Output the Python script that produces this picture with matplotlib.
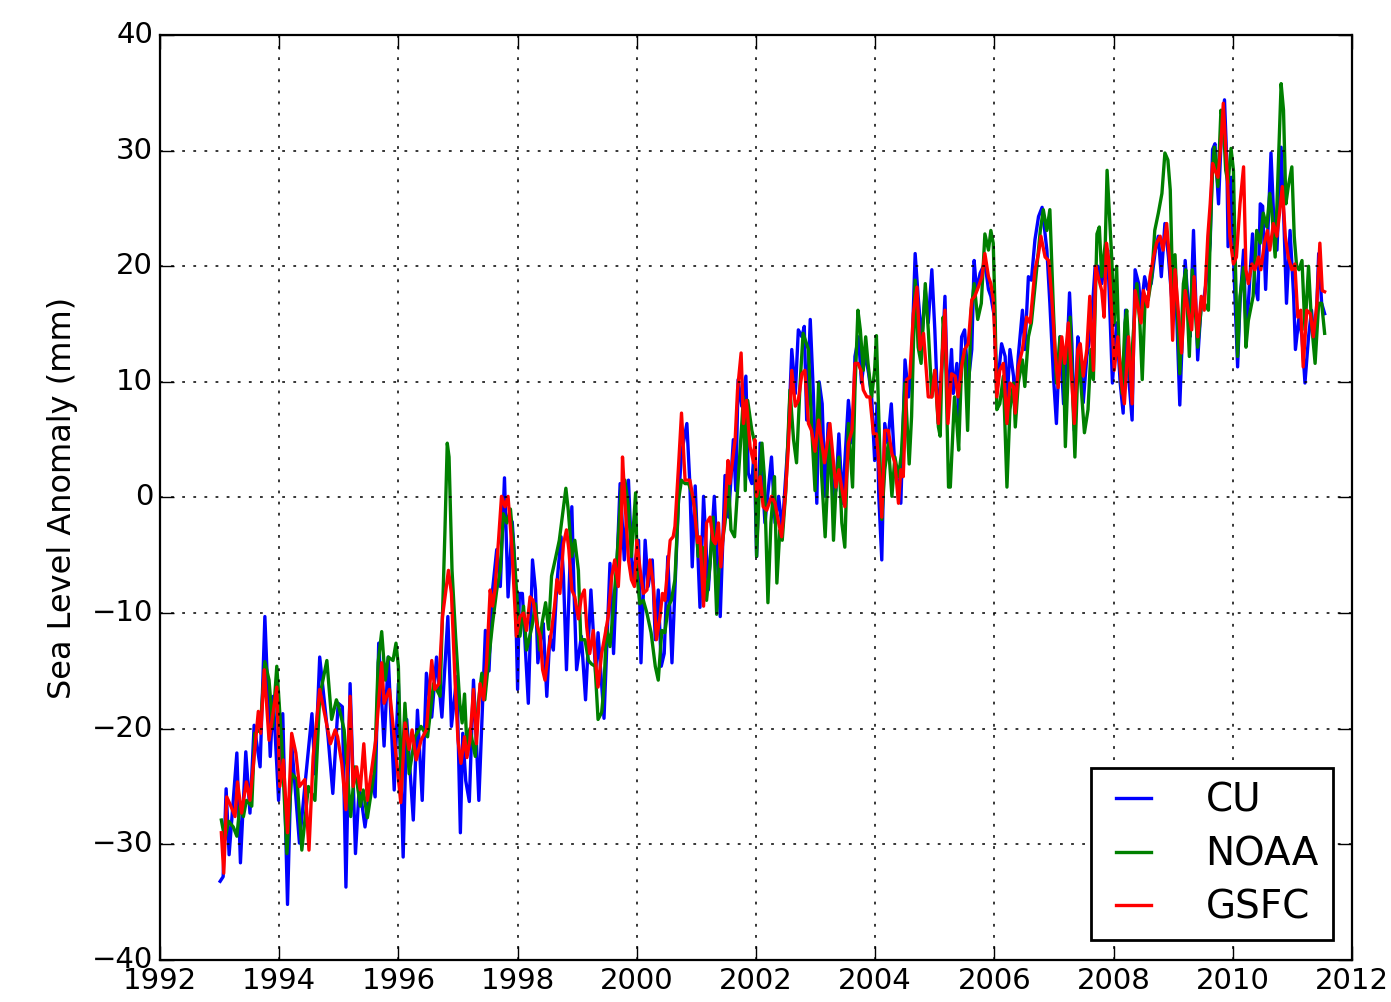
import matplotlib
matplotlib.use("Agg")
import matplotlib.pyplot as plt

# =================================================
# DATOS (mm)
# =================================================
cu_t = [1993.01, 1993.06, 1993.11, 1993.16, 1993.29, 1993.35, 1993.44, 1993.51, 1993.58, 1993.68, 1993.76, 1993.85, 1993.90, 1993.99,
        1994.06, 1994.14, 1994.21, 1994.34, 1994.43, 1994.55, 1994.60, 1994.68, 1994.82, 1994.90, 1994.99,
        1995.06, 1995.12, 1995.19, 1995.28, 1995.34, 1995.38, 1995.44, 1995.55, 1995.61, 1995.67, 1995.76, 1995.83, 1995.93,
        1996.00, 1996.08, 1996.14, 1996.25, 1996.32, 1996.40, 1996.47, 1996.56, 1996.64, 1996.73, 1996.83, 1996.89, 1996.98,
        1997.04, 1997.08, 1997.13, 1997.19, 1997.26, 1997.30, 1997.35, 1997.43, 1997.46, 1997.52, 1997.58, 1997.65, 1997.71, 1997.78, 1997.84, 1997.91, 1997.95,
        1998.00, 1998.03, 1998.08, 1998.13, 1998.18, 1998.25, 1998.30, 1998.34, 1998.39, 1998.43, 1998.49, 1998.54, 1998.60, 1998.66, 1998.73, 1998.77, 1998.82, 1998.91, 1998.95, 1998.99,
        1999.07, 1999.14, 1999.23, 1999.31, 1999.35, 1999.45, 1999.55, 1999.61, 1999.72, 1999.79, 1999.86, 1999.93,
        2000.03, 2000.07, 2000.14, 2000.19, 2000.26, 2000.31, 2000.36, 2000.41, 2000.46, 2000.52, 2000.59, 2000.70, 2000.75, 2000.84, 2000.89, 2000.93, 2000.98,
        2001.06, 2001.12, 2001.20, 2001.30, 2001.40, 2001.48, 2001.54, 2001.62, 2001.66, 2001.70, 2001.76, 2001.83, 2001.87, 2001.93, 2001.97,
        2002.01, 2002.07, 2002.15, 2002.26, 2002.32, 2002.38, 2002.44, 2002.49, 2002.54, 2002.60, 2002.66, 2002.71, 2002.77, 2002.81, 2002.85, 2002.91, 2002.96,
        2003.02, 2003.06, 2003.11, 2003.16, 2003.21, 2003.30, 2003.34, 2003.39, 2003.45, 2003.55, 2003.62, 2003.66, 2003.72, 2003.77, 2003.83, 2003.89, 2003.94, 2003.99,
        2004.03, 2004.06, 2004.11, 2004.16, 2004.21, 2004.27, 2004.32, 2004.38, 2004.43, 2004.50, 2004.56, 2004.61, 2004.67, 2004.72, 2004.78, 2004.84, 2004.89, 2004.95,
        2005.00, 2005.06, 2005.12, 2005.17, 2005.22, 2005.28, 2005.31, 2005.37, 2005.40, 2005.45, 2005.50, 2005.56, 2005.62, 2005.66, 2005.70, 2005.76, 2005.84, 2005.90, 2005.94,
        2006.00, 2006.04, 2006.12, 2006.18, 2006.21, 2006.26, 2006.32, 2006.35, 2006.40, 2006.47, 2006.51, 2006.57, 2006.62, 2006.68, 2006.74, 2006.80, 2006.88, 2006.93, 2006.99,
        2007.04, 2007.10, 2007.16, 2007.23, 2007.26, 2007.30, 2007.34, 2007.40, 2007.44, 2007.49, 2007.55, 2007.60, 2007.66, 2007.69, 2007.74, 2007.80, 2007.86, 2007.90, 2007.94, 2007.98,
        2008.05, 2008.11, 2008.16, 2008.20, 2008.26, 2008.31, 2008.36, 2008.42, 2008.46, 2008.52, 2008.57, 2008.63, 2008.70, 2008.75, 2008.80, 2008.86, 2008.92, 2008.99,
        2009.03, 2009.11, 2009.20, 2009.25, 2009.28, 2009.34, 2009.38, 2009.41, 2009.47, 2009.52, 2009.58, 2009.62, 2009.66, 2009.70, 2009.76, 2009.81, 2009.86, 2009.90, 2009.92, 2009.97,
        2010.01, 2010.08, 2010.12, 2010.18, 2010.22, 2010.26, 2010.33, 2010.37, 2010.42, 2010.46, 2010.50, 2010.55, 2010.64, 2010.68, 2010.74, 2010.81, 2010.85, 2010.90, 2010.96,
        2011.02, 2011.05, 2011.11, 2011.16, 2011.21, 2011.27, 2011.32, 2011.38, 2011.44, 2011.49, 2011.54]
cu_v = [-33.2, -32.8, -25.2, -30.9, -22.1, -31.6, -22.0, -27.3, -19.7, -23.3, -10.3, -22.4, -17.2, -26.2,
        -18.7, -35.2, -21.3, -29.9, -25.0, -18.7, -23.9, -13.8, -20.7, -25.6, -17.8,
        -18.1, -33.7, -16.1, -30.8, -25.3, -26.2, -28.5, -24.1, -25.9, -12.6, -21.5, -13.8, -25.3,
        -16.1, -31.1, -19.2, -27.9, -18.4, -26.2, -15.2, -19.0, -13.8, -19.0, -10.3, -19.8, -15.5,
        -29.0, -20.4, -24.5, -26.3, -15.8, -20.0, -26.2, -15.5, -11.5, -15.0, -8.0, -4.5, -7.7, 1.7, -8.6, -2.1, -5.4,
        -16.6, -8.3, -8.3, -13.0, -17.8, -5.4, -8.0, -14.3, -12.0, -10.9, -17.2, -12.0, -13.2, -7.4, -3.4, -6.8, -14.9, -0.8, -8.6, -14.9,
        -12.0, -17.5, -8.0, -15.2, -11.7, -19.1, -5.7, -13.5, 1.2, -5.4, 1.5, -7.1,
        -3.7, -14.3, -3.7, -7.7, -5.4, -12.3, -8.0, -14.6, -13.5, -5.1, -14.3, -0.2, 3.8, 6.4, 1.2, -6.0, 1.0,
        -9.5, 0.1, -8.0, 0.1, -10.3, 1.9, -1.7, 5.0, 0.6, 10.2, 7.9, 10.5, 2.1, 1.2, 4.1,
        -5.1, 4.7, -2.2, 3.5, -2.2, 0.1, -2.8, 1.2, 5.0, 12.8, 9.0, 14.5, 13.9, 14.8, 6.7, 15.4, 9.3,
        -0.5, 10.0, 8.1, 0.1, 6.4, 0.1, 0.6, 5.5, -0.5, 8.4, 4.7, 12.2, 13.9, 9.9, 12.5, 10.7, 8.7, 3.2,
        8.1, 0.1, -5.4, 6.4, 4.7, 8.1, 3.5, 1.2, -0.5, 11.9, 8.7, 11.6, 21.1, 17.4, 13.6, 17.9, 15.1, 19.7,
        14.5, 6.4, 11.6, 17.4, 7.6, 12.8, 9.0, 11.6, 7.0, 13.9, 14.5, 9.9, 12.8, 20.5, 17.9, 19.4, 20.3, 18.0, 17.4,
        15.6, 9.0, 13.3, 12.2, 8.1, 12.8, 10.5, 7.6, 12.2, 16.2, 12.8, 19.1, 18.8, 22.3, 24.3, 25.1, 21.4, 16.8, 10.5,
        6.4, 13.9, 8.1, 13.9, 17.7, 13.3, 5.8, 13.9, 12.2, 8.2, 12.2, 13.9, 17.7, 20.0, 20.0, 18.5, 20.5, 21.4, 15.6, 9.9,
        15.1, 9.9, 7.3, 16.2, 9.9, 6.7, 19.7, 18.5, 16.2, 19.1, 18.0, 18.5, 21.4, 22.6, 19.1, 23.7, 20.8, 16.2,
        20.0, 8.0, 20.5, 16.8, 13.9, 23.1, 16.8, 11.9, 16.8, 17.4, 19.7, 22.0, 30.1, 30.6, 25.4, 31.8, 34.4, 28.9, 21.7, 27.7,
        20.8, 11.3, 16.8, 21.4, 14.5, 16.8, 22.8, 18.5, 17.1, 25.4, 25.2, 18.0, 29.8, 24.9, 21.4, 30.3, 24.9, 16.8, 23.1,
        17.4, 12.8, 15.6, 13.9, 9.9, 13.9, 16.2, 12.5, 21.1, 16.8, 15.9]

noaa_t = [1993.03, 1993.09, 1993.15, 1993.23, 1993.29, 1993.34, 1993.40, 1993.45, 1993.54, 1993.59, 1993.68, 1993.76, 1993.83, 1993.89, 1993.96,
          1994.04, 1994.13, 1994.21, 1994.30, 1994.38, 1994.49, 1994.60, 1994.68, 1994.80, 1994.88, 1994.96,
          1995.00, 1995.09, 1995.20, 1995.27, 1995.36, 1995.41, 1995.48, 1995.60, 1995.66, 1995.72, 1995.78, 1995.83, 1995.91, 1995.96,
          1996.00, 1996.05, 1996.11, 1996.18, 1996.28, 1996.38, 1996.49, 1996.59, 1996.70, 1996.78, 1996.82, 1996.85, 1996.90, 1996.96,
          1997.03, 1997.07, 1997.11, 1997.15, 1997.20, 1997.29, 1997.34, 1997.40, 1997.45, 1997.51, 1997.58, 1997.65, 1997.71, 1997.76, 1997.82, 1997.88, 1997.93,
          1998.00, 1998.04, 1998.10, 1998.15, 1998.24, 1998.30, 1998.37, 1998.41, 1998.47, 1998.52, 1998.57, 1998.63, 1998.70, 1998.81, 1998.85, 1998.91, 1998.96,
          1999.02, 1999.06, 1999.13, 1999.19, 1999.24, 1999.30, 1999.35, 1999.41, 1999.45, 1999.49, 1999.55, 1999.61, 1999.68, 1999.74, 1999.80, 1999.86, 1999.91, 1999.98,
          2000.01, 2000.05, 2000.11, 2000.17, 2000.24, 2000.31, 2000.36, 2000.42, 2000.47, 2000.53, 2000.58, 2000.64, 2000.70, 2000.75, 2000.81, 2000.87, 2000.92, 2000.98,
          2001.03, 2001.10, 2001.17, 2001.23, 2001.28, 2001.34, 2001.38, 2001.42, 2001.48, 2001.54, 2001.58, 2001.64, 2001.69, 2001.79, 2001.82, 2001.86, 2001.93, 2001.98,
          2002.01, 2002.05, 2002.10, 2002.14, 2002.20, 2002.25, 2002.31, 2002.35, 2002.40, 2002.44, 2002.50, 2002.57, 2002.63, 2002.68, 2002.74, 2002.79, 2002.88, 2002.93, 2002.99,
          2003.05, 2003.10, 2003.16, 2003.24, 2003.30, 2003.35, 2003.39, 2003.44, 2003.49, 2003.55, 2003.62, 2003.66, 2003.71, 2003.75, 2003.80, 2003.84, 2003.88, 2003.94, 2003.99,
          2004.02, 2004.05, 2004.11, 2004.16, 2004.22, 2004.28, 2004.33, 2004.39, 2004.44, 2004.50, 2004.57, 2004.61, 2004.67, 2004.72, 2004.77, 2004.84, 2004.89, 2004.95,
          2005.00, 2005.06, 2005.09, 2005.14, 2005.18, 2005.23, 2005.26, 2005.33, 2005.37, 2005.40, 2005.45, 2005.50, 2005.55, 2005.61, 2005.66, 2005.72, 2005.78, 2005.84, 2005.90, 2005.94, 2005.98,
          2006.01, 2006.04, 2006.09, 2006.15, 2006.21, 2006.26, 2006.32, 2006.35, 2006.40, 2006.47, 2006.51, 2006.57, 2006.62, 2006.68, 2006.77, 2006.82, 2006.88, 2006.93, 2006.99,
          2007.04, 2007.10, 2007.16, 2007.19, 2007.23, 2007.27, 2007.31, 2007.35, 2007.41, 2007.45, 2007.51, 2007.57, 2007.62, 2007.66, 2007.72, 2007.76, 2007.80, 2007.86, 2007.89, 2007.92, 2007.97,
          2008.01, 2008.05, 2008.09, 2008.14, 2008.19, 2008.22, 2008.28, 2008.33, 2008.39, 2008.44, 2008.48, 2008.53, 2008.58, 2008.64, 2008.69, 2008.75, 2008.81, 2008.86, 2008.91, 2008.95, 2008.99,
          2009.03, 2009.11, 2009.17, 2009.21, 2009.27, 2009.32, 2009.37, 2009.41, 2009.47, 2009.52, 2009.59, 2009.62, 2009.66, 2009.69, 2009.75, 2009.80, 2009.84, 2009.88, 2009.92, 2009.97,
          2010.01, 2010.04, 2010.08, 2010.12, 2010.18, 2010.22, 2010.26, 2010.34, 2010.40, 2010.46, 2010.51, 2010.57, 2010.62, 2010.66, 2010.71, 2010.76, 2010.81, 2010.85, 2010.89, 2010.93, 2010.99,
          2011.03, 2011.07, 2011.11, 2011.16, 2011.21, 2011.27, 2011.32, 2011.38, 2011.44, 2011.49, 2011.54]
noaa_v = [-27.9, -29.6, -28.0, -28.5, -29.3, -26.7, -27.6, -26.2, -26.7, -20.4, -20.1, -14.2, -15.8, -19.8, -14.6,
          -21.0, -30.8, -23.9, -24.4, -30.5, -25.0, -26.2, -17.2, -14.1, -19.2, -17.5,
          -18.1, -20.1, -27.6, -23.3, -26.7, -25.3, -27.7, -23.6, -14.3, -11.6, -15.8, -13.8, -14.1, -12.6,
          -14.6, -25.3, -17.8, -23.9, -20.7, -19.8, -20.7, -16.1, -17.2, -3.1, 4.7, 3.5, -6.3, -12.0,
          -17.8, -19.5, -17.0, -21.5, -20.0, -22.4, -17.8, -15.2, -17.5, -14.3, -10.9, -8.0, -6.3, -1.4, -2.2, -1.0, -4.0,
          -9.4, -12.0, -9.4, -13.2, -11.2, -9.2, -13.2, -10.9, -9.1, -11.4, -6.8, -5.4, -3.7, 0.8, -1.1, -5.1, -3.7,
          -6.3, -12.3, -12.3, -14.1, -14.4, -14.6, -19.2, -18.6, -16.4, -11.2, -12.9, -9.4, -4.3, 0.9, 1.5, -0.8, -5.1, 0.4,
          -7.1, -9.2, -8.9, -10.0, -11.7, -14.6, -15.8, -11.5, -11.7, -9.4, -8.9, -7.1, -0.2, 1.5, 1.2, 1.2, 0.4, -1.1,
          -5.1, -4.3, -8.9, -5.7, -1.7, -10.1, -6.0, -4.5, -2.2, 1.2, -2.8, -3.4, 0.6, 8.7, 0.6, 8.4, 5.8, 4.7,
          -5.1, 0.1, 4.7, 1.8, -9.1, -2.2, 1.8, -7.4, -2.8, -3.7, 0.6, 9.3, 5.0, 3.0, 9.9, 14.2, 12.8, 6.4, 0.6,
          9.9, 2.0, -3.4, 5.8, -3.7, 1.8, 3.5, -2.2, -4.3, 6.4, 0.9, 9.3, 16.2, 14.5, 11.0, 13.9, 11.6, 8.7, 11.0,
          14.0, 8.7, -1.9, 2.4, 4.7, 0.1, 3.5, 1.8, 3.8, 9.9, 2.9, 7.0, 18.8, 13.0, 11.6, 18.5, 14.5, 8.7,
          11.0, 6.1, 5.3, 15.6, 12.5, 0.9, 0.9, 8.7, 6.4, 4.1, 11.6, 12.8, 5.8, 16.2, 18.5, 15.4, 16.8, 22.8, 21.4, 23.1, 22.0,
          16.2, 7.6, 8.1, 10.5, 0.9, 7.6, 9.9, 6.1, 9.9, 11.9, 9.6, 13.9, 15.1, 18.2, 23.1, 24.9, 23.1, 24.9, 16.2,
          9.9, 13.9, 11.6, 4.4, 9.9, 15.6, 9.3, 3.5, 12.8, 9.9, 5.6, 7.6, 12.8, 10.2, 22.8, 23.4, 19.1, 22.0, 28.3, 25.4, 20.5,
          15.1, 20.0, 12.8, 9.0, 15.1, 16.2, 10.2, 14.2, 18.5, 15.1, 10.2, 17.4, 17.1, 19.1, 23.1, 24.6, 26.3, 29.8, 29.2, 26.6, 18.0,
          21.0, 10.7, 18.5, 19.7, 12.2, 19.7, 16.2, 13.0, 16.5, 16.8, 16.2, 22.6, 28.3, 30.3, 26.9, 33.5, 32.4, 28.3, 27.2, 30.2,
          28.3, 20.8, 12.2, 17.4, 19.9, 13.0, 15.3, 17.4, 23.1, 22.0, 24.6, 23.4, 26.3, 24.3, 20.8, 28.3, 35.8, 33.5, 25.4, 26.9, 28.6,
          22.6, 20.0, 19.7, 20.5, 14.5, 20.0, 15.1, 11.6, 16.8, 16.8, 14.2]

gsfc_t = [1993.03, 1993.07, 1993.12, 1993.19, 1993.26, 1993.30, 1993.37, 1993.45, 1993.51, 1993.57, 1993.65, 1993.69, 1993.75, 1993.83, 1993.96,
          1994.01, 1994.07, 1994.14, 1994.21, 1994.28, 1994.34, 1994.43, 1994.50, 1994.57, 1994.68, 1994.77, 1994.86, 1994.94, 1994.98,
          1995.05, 1995.12, 1995.19, 1995.24, 1995.30, 1995.36, 1995.42, 1995.48, 1995.62, 1995.72, 1995.76, 1995.85, 1995.93,
          1996.04, 1996.11, 1996.18, 1996.23, 1996.30, 1996.38, 1996.47, 1996.56, 1996.61, 1996.68, 1996.74, 1996.84, 1996.89, 1996.95,
          1997.00, 1997.05, 1997.11, 1997.15, 1997.20, 1997.26, 1997.31, 1997.37, 1997.43, 1997.48, 1997.54, 1997.58, 1997.62, 1997.68, 1997.73, 1997.79, 1997.84, 1997.90, 1997.95, 1997.98,
          1998.04, 1998.10, 1998.15, 1998.21, 1998.26, 1998.32, 1998.38, 1998.42, 1998.46, 1998.52, 1998.57, 1998.62, 1998.66, 1998.71, 1998.77, 1998.82, 1998.86, 1998.91, 1998.96,
          1999.02, 1999.07, 1999.12, 1999.16, 1999.21, 1999.27, 1999.31, 1999.35, 1999.41, 1999.47, 1999.52, 1999.58, 1999.63, 1999.69, 1999.74, 1999.76, 1999.80, 1999.86, 1999.91, 1999.96,
          2000.00, 2000.05, 2000.11, 2000.17, 2000.22, 2000.28, 2000.33, 2000.39, 2000.43, 2000.47, 2000.56, 2000.61, 2000.64, 2000.70, 2000.75, 2000.81, 2000.89, 2000.95,
          2001.02, 2001.06, 2001.12, 2001.17, 2001.23, 2001.28, 2001.32, 2001.37, 2001.41, 2001.48, 2001.53, 2001.56, 2001.65, 2001.69, 2001.75, 2001.79, 2001.84, 2001.90, 2001.96, 2001.98,
          2002.01, 2002.07, 2002.12, 2002.18, 2002.26, 2002.32, 2002.38, 2002.43, 2002.49, 2002.54, 2002.60, 2002.66, 2002.71, 2002.77, 2002.82, 2002.88, 2002.93, 2002.99,
          2003.05, 2003.15, 2003.24, 2003.30, 2003.34, 2003.39, 2003.49, 2003.55, 2003.61, 2003.66, 2003.71, 2003.76, 2003.80, 2003.86, 2003.91, 2003.97,
          2004.02, 2004.06, 2004.11, 2004.16, 2004.22, 2004.28, 2004.33, 2004.39, 2004.43, 2004.47, 2004.53, 2004.58, 2004.64, 2004.70, 2004.75, 2004.81, 2004.89, 2004.95,
          2005.00, 2005.06, 2005.12, 2005.17, 2005.22, 2005.28, 2005.34, 2005.39, 2005.45, 2005.50, 2005.56, 2005.62, 2005.67, 2005.73, 2005.79, 2005.84, 2005.90, 2005.94, 2005.98,
          2006.01, 2006.04, 2006.09, 2006.15, 2006.21, 2006.26, 2006.32, 2006.35, 2006.40, 2006.47, 2006.54, 2006.60, 2006.68, 2006.74, 2006.78, 2006.85, 2006.91, 2006.96,
          2007.02, 2007.07, 2007.13, 2007.18, 2007.24, 2007.30, 2007.34, 2007.40, 2007.44, 2007.49, 2007.55, 2007.60, 2007.66, 2007.70, 2007.74, 2007.80, 2007.84, 2007.88, 2007.92, 2007.97,
          2008.01, 2008.07, 2008.13, 2008.18, 2008.25, 2008.31, 2008.36, 2008.42, 2008.46, 2008.50, 2008.57, 2008.61, 2008.67, 2008.72, 2008.78, 2008.83, 2008.89, 2008.95, 2008.99,
          2009.03, 2009.10, 2009.14, 2009.20, 2009.25, 2009.31, 2009.35, 2009.41, 2009.47, 2009.52, 2009.58, 2009.62, 2009.66, 2009.70, 2009.75, 2009.80, 2009.84, 2009.87, 2009.91, 2009.95,
          2010.01, 2010.06, 2010.12, 2010.18, 2010.22, 2010.26, 2010.32, 2010.37, 2010.43, 2010.47, 2010.53, 2010.58, 2010.62, 2010.68, 2010.74, 2010.79, 2010.83, 2010.88, 2010.93, 2010.99,
          2011.04, 2011.09, 2011.14, 2011.18, 2011.24, 2011.30, 2011.35, 2011.41, 2011.46, 2011.50, 2011.54]
gsfc_v = [-29.0, -32.5, -25.9, -26.7, -27.6, -24.6, -27.3, -24.6, -26.2, -23.0, -18.5, -20.4, -14.9, -21.0, -16.4,
          -25.0, -22.7, -29.0, -20.4, -22.1, -25.0, -24.4, -30.5, -22.4, -16.6, -18.9, -21.3, -20.1, -20.7,
          -23.0, -27.0, -17.2, -25.0, -23.3, -25.3, -21.3, -26.2, -21.0, -14.3, -17.8, -16.6, -20.7,
          -26.4, -19.5, -21.8, -20.1, -22.7, -21.0, -20.1, -14.1, -16.6, -16.1, -10.3, -6.3, -8.3, -15.8,
          -21.0, -23.0, -20.7, -22.5, -21.0, -16.6, -21.3, -16.1, -17.5, -14.3, -8.0, -9.4, -8.0, -3.7, 0.1, -0.8, 0.1, -4.0, -9.0, -12.0,
          -10.3, -10.0, -11.5, -8.6, -8.9, -10.9, -12.0, -14.9, -15.8, -13.2, -11.5, -9.4, -7.1, -8.3, -4.0, -2.8, -4.5, -8.0, -8.6,
          -10.5, -8.6, -8.0, -11.2, -13.5, -11.5, -14.3, -16.4, -13.5, -11.8, -10.3, -6.8, -5.4, -7.7, -2.8, 3.5, -0.2, -5.4, -7.1, -7.7,
          -3.7, -6.0, -8.3, -8.0, -5.4, -7.7, -12.3, -10.3, -8.3, -8.9, -3.7, -3.4, -2.5, 2.7, 7.3, 1.5, 1.5, -0.2,
          -3.9, -3.4, -9.4, -2.2, -1.7, -3.7, -4.0, -2.2, -6.0, -1.1, 3.2, 1.2, 5.0, 9.3, 12.5, 6.4, 8.4, 4.4, 3.0, 5.0,
          0.1, 1.8, -0.8, -1.1, 0.1, -0.5, -2.2, -3.4, 0.1, 4.1, 11.0, 7.9, 8.4, 10.7, 11.0, 6.4, 5.8, 4.0,
          6.7, 3.0, 6.4, 3.0, 0.9, 2.4, -0.8, 4.7, 5.8, 11.6, 11.6, 11.0, 9.3, 8.7, 8.7, 5.5,
          5.5, 3.0, -1.7, 5.8, 5.8, 3.8, 3.0, -0.5, 2.4, 1.8, 10.2, 10.4, 15.9, 18.2, 12.8, 14.2, 8.7, 8.7,
          11.0, 6.4, 11.9, 16.2, 6.4, 10.7, 10.5, 8.7, 11.3, 12.8, 13.3, 17.1, 17.4, 18.2, 19.1, 21.1, 19.1, 18.5, 17.1,
          13.3, 8.7, 11.0, 11.6, 6.4, 9.9, 9.6, 7.3, 11.3, 12.8, 15.6, 15.1, 19.7, 21.1, 22.6, 20.8, 20.5, 17.4,
          12.5, 9.5, 13.9, 11.6, 15.1, 9.9, 6.4, 12.8, 13.3, 10.5, 12.8, 17.4, 11.0, 20.0, 19.1, 17.9, 15.6, 22.0, 20.5, 15.6,
          11.0, 13.9, 9.9, 8.1, 13.9, 8.1, 17.9, 16.2, 15.1, 17.9, 16.5, 19.1, 20.8, 22.0, 22.6, 21.4, 23.7, 19.7, 13.6,
          19.7, 15.1, 12.5, 17.9, 16.2, 14.5, 19.1, 13.9, 17.4, 16.2, 22.6, 25.4, 28.9, 28.3, 27.7, 30.6, 34.1, 31.2, 27.5, 22.6,
          20.2, 20.8, 25.4, 28.6, 19.7, 18.5, 20.2, 19.7, 20.8, 19.7, 22.0, 23.1, 21.4, 23.7, 22.6, 24.9, 26.9, 22.6, 20.8, 19.7,
          20.2, 15.6, 16.2, 11.3, 16.2, 15.9, 13.9, 16.8, 22.0, 17.9, 17.8]

anios = list(range(1992, 2013, 2))
niveles = list(range(-40, 41, 10))

# =================================================
# GRÁFICO
# =================================================
plt.style.use("classic")
fig = plt.figure(figsize=(13.91, 10.02), dpi=100, facecolor="white")
ax = fig.add_axes([0.115, 0.042, 0.857, 0.923])

ax.plot(cu_t, cu_v, color="blue", linewidth=2.4, label="CU")
ax.plot(noaa_t, noaa_v, color="green", linewidth=2.4, label="NOAA")
ax.plot(gsfc_t, gsfc_v, color="red", linewidth=2.4, label="GSFC")

ax.set_xlim(1992, 2012)
ax.set_ylim(-40, 40)
ax.set_xticks(anios)
ax.set_xticklabels([str(a) for a in anios])
ax.set_yticks(niveles)
ax.tick_params(labelsize=21, direction="in", length=10, width=1,
               top=True, right=True, pad=5)
ax.grid(True, color="black", linestyle=(0, (2, 6)), linewidth=1.1)
for s in ax.spines.values():
    s.set_linewidth(1.6)

ax.set_ylabel("Sea Level Anomaly (mm)", fontsize=23, labelpad=10)

leg = ax.legend(loc="lower right", fontsize=28, handlelength=1.5,
                handletextpad=1.1, borderaxespad=0.5, labelspacing=0.4,
                borderpad=0.35, fancybox=False, framealpha=1)
leg.get_frame().set_linewidth(2)
leg.get_frame().set_edgecolor("black")

fig.savefig("out.png", dpi=100)
